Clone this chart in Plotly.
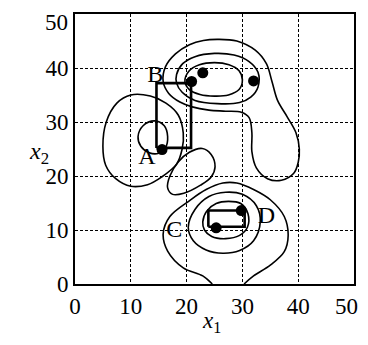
import plotly.graph_objects as go

# ---------------- data ----------------
axis_ticks = [0, 10, 20, 30, 40, 50]
axis_tick_text = ["0", "10", "20", "30", "40", ""]   # "50" is written as an edge label below
edge_label = "50"

# contour lines (x1, x2)
top_inner_x = [19.7, 20.4, 22.3, 25.0, 27.6, 29.4, 30.0, 29.4, 27.5, 25.0, 22.4, 20.5, 19.7]
top_inner_y = [37.5, 39.4, 40.6, 41.0, 40.6, 39.5, 37.8, 36.0, 35.0, 34.8, 35.1, 36.0, 37.5]

top_mid_x = [18.2, 19.3, 21.5, 25.0, 28.5, 31.2, 32.8, 32.8, 31.5, 29.5, 25.5, 21.5, 19.2, 18.2, 18.2]
top_mid_y = [38.8, 40.8, 42.1, 42.7, 42.4, 41.2, 39.2, 36.5, 34.6, 33.6, 33.4, 34.0, 35.5, 37.2, 38.8]

top_outer_x = [25.6, 29.0, 32.3, 34.3, 35.3, 36.3, 38.0, 39.6, 40.2, 40.0, 39.2, 37.0, 34.5, 32.5,
               31.7, 31.7, 31.2, 29.8, 27.0, 24.0, 21.0, 18.8, 16.8, 15.8, 16.2, 18.0, 20.5, 23.0, 25.6]
top_outer_y = [45.3, 45.0, 43.3, 40.8, 37.5, 34.0, 31.0, 28.0, 25.0, 22.5, 20.5, 19.2, 19.5, 21.5,
               24.5, 28.0, 30.8, 31.8, 32.0, 32.2, 32.8, 33.7, 35.3, 37.5, 40.2, 42.6, 44.3, 45.1, 45.3]

left_outer_x = [10.0, 13.5, 16.3, 18.5, 19.4, 19.2, 18.2, 15.5, 13.0, 10.0, 7.3, 5.5, 5.0, 5.6, 7.5, 10.0]
left_outer_y = [35.0, 34.8, 33.5, 31.3, 28.0, 25.0, 22.2, 19.8, 18.4, 18.1, 19.5, 22.0, 25.5, 30.0, 33.5, 35.0]

left_inner_x = [14.3, 16.0, 16.6, 16.2, 15.0, 13.3, 11.8, 11.3, 12.2, 14.3]
left_inner_y = [30.2, 29.3, 27.3, 25.2, 24.2, 24.3, 25.5, 27.3, 29.3, 30.2]

mid_blob_x = [22.8, 24.4, 25.1, 24.4, 22.5, 19.5, 17.5, 16.6, 17.0, 18.5, 20.5, 22.8]
mid_blob_y = [25.1, 24.0, 21.7, 19.8, 18.3, 16.8, 16.6, 17.8, 20.0, 22.6, 24.4, 25.1]

bot_inner_x = [22.9, 23.6, 25.3, 27.5, 29.7, 31.0, 30.9, 29.5, 27.0, 24.5, 23.2, 22.9]
bot_inner_y = [11.5, 13.5, 14.9, 15.3, 14.9, 13.0, 10.5, 9.0, 8.4, 8.8, 10.0, 11.5]

bot_mid_x = [20.3, 21.5, 24.0, 27.0, 30.0, 32.5, 33.2, 32.0, 29.5, 26.5, 23.5, 21.2, 20.3]
bot_mid_y = [10.5, 13.8, 16.2, 17.0, 16.6, 14.5, 11.5, 8.0, 6.2, 5.7, 6.3, 8.0, 10.5]

bot_outer_x = [24.6, 22.9, 19.4, 16.6, 15.8, 17.0, 20.6, 23.5, 26.5, 29.0, 32.0, 35.0, 37.5, 38.2, 37.5, 35.0, 32.0, 30.3]
bot_outer_y = [0.0, 1.5, 3.0, 6.1, 9.3, 12.5, 15.5, 17.5, 18.7, 18.7, 17.5, 15.6, 12.5, 9.0, 6.0, 3.5, 1.5, 0.0]

# search points
point_x = [15.6, 20.9, 22.9, 32.0, 25.3, 29.8]
point_y = [24.9, 37.5, 39.1, 37.6, 10.4, 13.6]

# boxes A-B and C-D
box_ab_x = [14.6, 14.6, 20.8, 20.8, 14.6]
box_ab_y = [25.2, 37.2, 37.2, 25.2, 25.2]
box_cd_x = [23.9, 23.9, 30.4, 30.4, 23.9]
box_cd_y = [10.6, 13.6, 13.6, 10.6, 10.6]

# letters
label_text = ["A", "B", "C", "D"]
label_x = [12.9, 14.4, 17.8, 34.3]
label_y = [23.4, 38.6, 9.9, 12.5]

# ---------------- figure ----------------
FONT = "Liberation Serif, Times New Roman, serif"
TICK_SIZE = 23
fig = go.Figure()

contours = [
    (top_inner_x, top_inner_y), (top_mid_x, top_mid_y), (top_outer_x, top_outer_y),
    (left_outer_x, left_outer_y), (left_inner_x, left_inner_y), (mid_blob_x, mid_blob_y),
    (bot_inner_x, bot_inner_y), (bot_mid_x, bot_mid_y), (bot_outer_x, bot_outer_y),
]
for cx, cy in contours:
    fig.add_trace(go.Scatter(x=cx, y=cy, mode="lines",
                             line=dict(color="black", width=1.6, shape="spline", smoothing=1.0),
                             hoverinfo="skip", showlegend=False))

for bx, by in [(box_ab_x, box_ab_y), (box_cd_x, box_cd_y)]:
    fig.add_trace(go.Scatter(x=bx, y=by, mode="lines",
                             line=dict(color="black", width=2.6),
                             hoverinfo="skip", showlegend=False))

fig.add_trace(go.Scatter(x=point_x, y=point_y, mode="markers",
                         marker=dict(color="black", size=11, symbol="circle"),
                         showlegend=False))

fig.add_trace(go.Scatter(x=label_x, y=label_y, mode="text", text=label_text,
                         textfont=dict(family=FONT, size=24, color="black"),
                         textposition="middle center", showlegend=False))

axis_common = dict(
    range=[0, 50], tickvals=axis_ticks, ticktext=axis_tick_text,
    showgrid=True, gridcolor="black", gridwidth=1, griddash="3px,2px",
    showline=True, linecolor="black", linewidth=2, mirror=True,
    zeroline=False, ticks="", automargin=False, ticklabeloverflow="allow",
    tickfont=dict(family=FONT, size=TICK_SIZE, color="black"),
)
fig.update_xaxes(**axis_common, ticklabelstandoff=0)
fig.update_yaxes(**axis_common, ticklabelstandoff=0)

# end-of-axis "50" labels, kept inside the page edge
tick_font = dict(family=FONT, size=TICK_SIZE, color="black")
fig.add_annotation(text=edge_label, xref="paper", yref="paper", x=1, y=0,
                   xanchor="right", yanchor="middle", xshift=6, yshift=-22,
                   showarrow=False, font=tick_font)
fig.add_annotation(text=edge_label, xref="paper", yref="paper", x=0, y=1,
                   xanchor="right", yanchor="top", xshift=-5, yshift=6,
                   showarrow=False, font=tick_font)

# axis titles
fig.add_annotation(text="<i>x</i><sub>1</sub>", xref="paper", yref="paper",
                   x=0.49, y=-0.141, xanchor="center", yanchor="middle", showarrow=False,
                   font=dict(family=FONT, size=23, color="black"))
fig.add_annotation(text="<i>x</i><sub>2</sub>", xref="paper", yref="paper",
                   x=-0.13, y=0.487, xanchor="center", yanchor="middle", showarrow=False,
                   font=dict(family=FONT, size=24, color="black"))

# the page body adds an 8px margin; size the figure so the page never overflows
# and the plot box lands where the reference has it (x 75..354, y 14..284)
fig.update_layout(
    width=352, height=329,
    margin=dict(l=67, r=6, t=6, b=53, autoexpand=False),
    paper_bgcolor="white", plot_bgcolor="white",
    showlegend=False,
)

fig.write_html("out.html")
